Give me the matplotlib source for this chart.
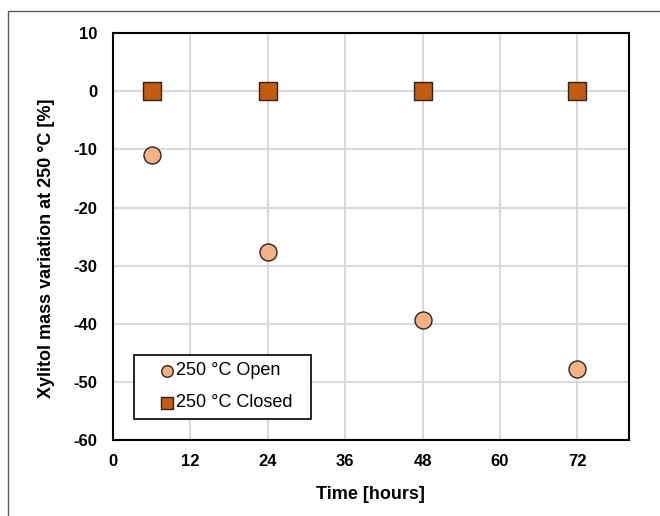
import matplotlib
matplotlib.use("Agg")
import matplotlib.pyplot as plt
from matplotlib.patches import Rectangle

plt.rcParams['font.family'] = ['Liberation Sans', 'DejaVu Sans']
plt.rcParams['axes.unicode_minus'] = False

# data
time_h = [6, 24, 48, 72]
open_mass = [-11.0, -27.7, -39.4, -47.8]
closed_mass = [0, 0, 0, 0]
x_ticks = [0, 12, 24, 36, 48, 60, 72]
y_ticks = [10, 0, -10, -20, -30, -40, -50, -60]

fig = plt.figure(figsize=(6.6, 5.16), dpi=100)
ax = fig.add_axes([0.171, 0.147, 0.782, 0.789])

# outer frame (runs off the right/bottom edges like the original)
fig.patches.append(Rectangle((8 / 660, -0.1), 1.2, 1 - 11 / 516 + 0.1,
                             transform=fig.transFigure, fill=False,
                             edgecolor='#595959', linewidth=1.0))

ax.scatter(time_h, open_mass, s=150, marker='o', color='#F4B183',
           edgecolor='#262626', linewidth=1.0, zorder=3, label='250 °C Open')
ax.scatter(time_h, closed_mass, s=150, marker='s', color='#C55A11',
           edgecolor='#262626', linewidth=1.0, zorder=3, label='250 °C Closed')

ax.set_xlim(0, 80)
ax.set_ylim(-60, 10)
ax.set_xticks(x_ticks)
ax.set_yticks(y_ticks)
ax.grid(True, color='#D9D9D9', linewidth=1.5)
ax.set_axisbelow(True)
ax.tick_params(length=0, labelsize=12)
ax.tick_params(axis='y', pad=11)
ax.tick_params(axis='x', pad=10)
for lbl in ax.get_xticklabels() + ax.get_yticklabels():
    lbl.set_fontweight('bold')
for sp in ax.spines.values():
    sp.set_linewidth(1.5)
    sp.set_color('black')

ax.set_xlabel('Time [hours]', fontsize=13, fontweight='bold', labelpad=12)
ax.set_ylabel('Xylitol mass variation at 250 °C [%]', fontsize=13,
              fontweight='bold')
ax.yaxis.set_label_coords(-0.113, 0.472)

leg = ax.legend(loc='lower left', bbox_to_anchor=(0.041, 0.052, 0.343, 0.16),
                mode='expand', fontsize=13, fancybox=False, framealpha=1,
                edgecolor='black', handletextpad=-0.95, markerscale=0.68,
                borderpad=0.42, labelspacing=0.83, handlelength=2.83,
                borderaxespad=0)
leg.get_frame().set_linewidth(1.2)

fig.savefig('out.png', dpi=100)
